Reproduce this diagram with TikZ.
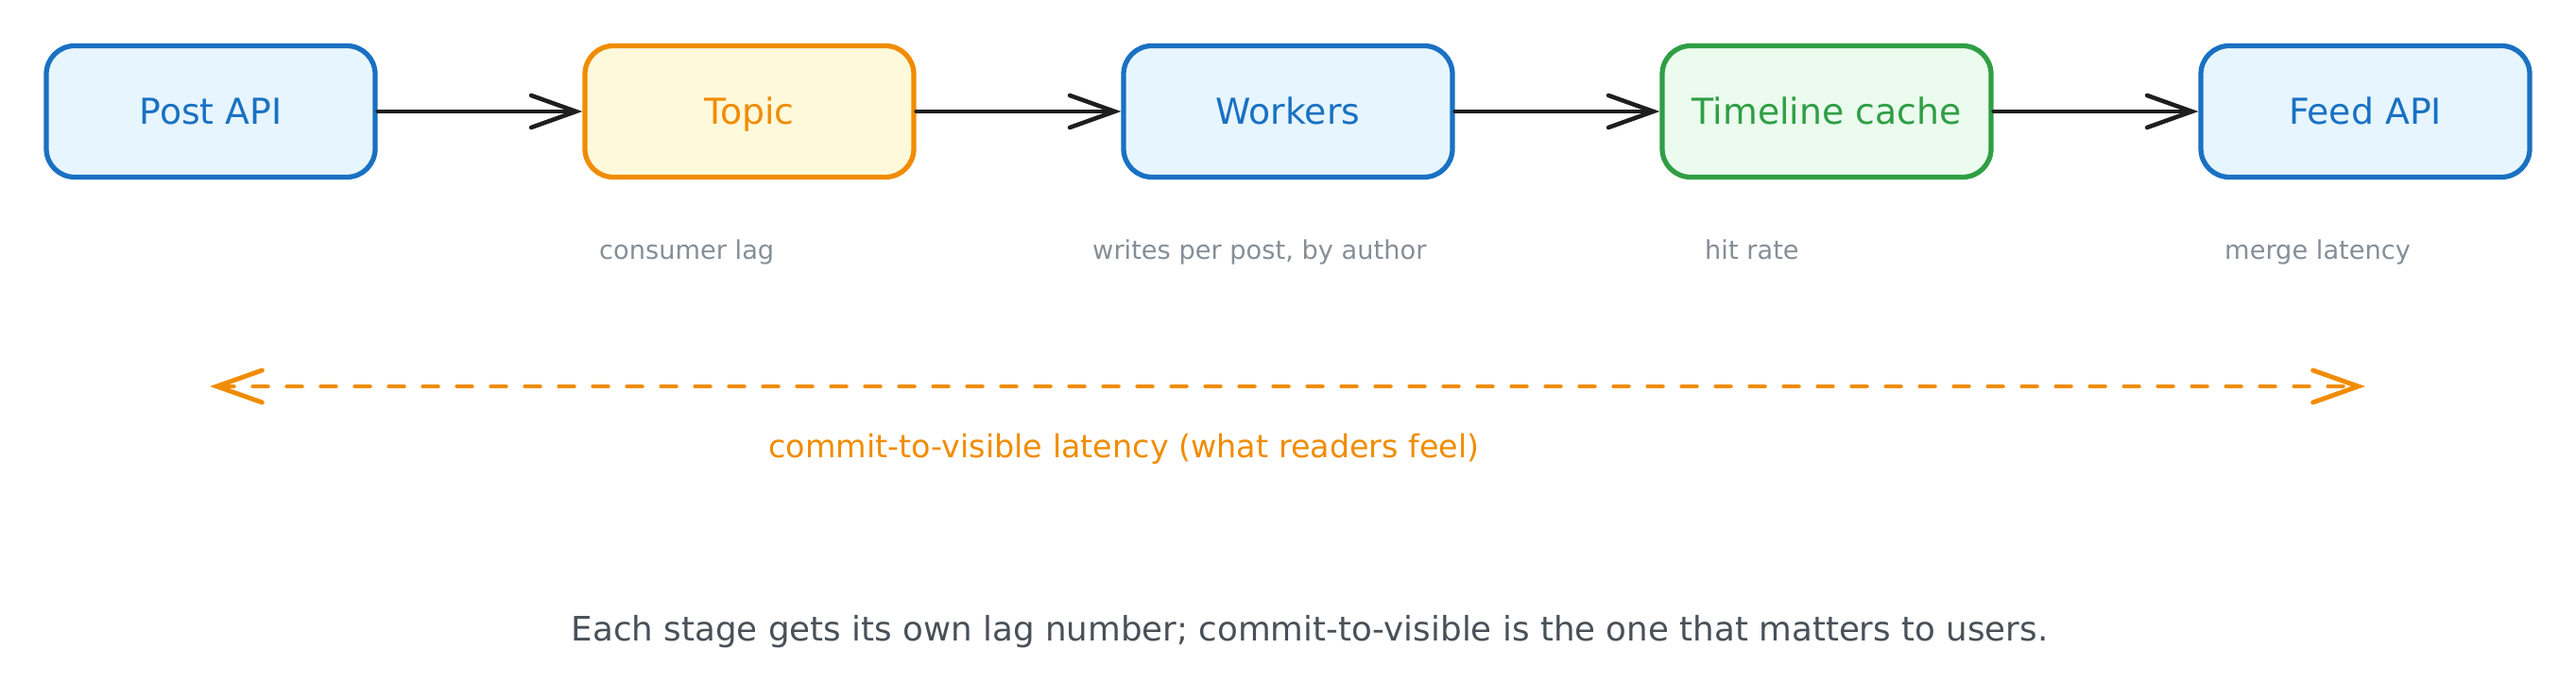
\documentclass[tikz,border=0pt]{standalone}
\usepackage{fontspec}
\setmainfont{DejaVu Sans}
\usetikzlibrary{arrows.meta}

\definecolor{bluestroke}{HTML}{1971C2}
\definecolor{bluefill}{HTML}{E7F5FF}
\definecolor{orangestroke}{HTML}{F08C00}
\definecolor{orangefill}{HTML}{FFF9DB}
\definecolor{greenstroke}{HTML}{2F9E44}
\definecolor{greenfill}{HTML}{EBFBEE}
\definecolor{notegray}{HTML}{868E96}
\definecolor{captiongray}{HTML}{495057}
\definecolor{inkblack}{HTML}{1E1E1E}

\begin{document}
\begin{tikzpicture}[
    stage/.style={draw, line width=3pt, rounded corners=0.6cm, minimum width=6.96cm, minimum height=2.78cm, text height=15.5pt, text depth=0pt, font=\fontsize{21.5}{26}\selectfont},
    bluestage/.style={stage, draw=bluestroke, fill=bluefill, text=bluestroke},
    orangestage/.style={stage, draw=orangestroke, fill=orangefill, text=orangestroke},
    greenstage/.style={stage, draw=greenstroke, fill=greenfill, text=greenstroke},
    metric/.style={anchor=base west, text=notegray, font=\fontsize{15.5}{19}\selectfont},
    flow/.style={draw=inkblack, line width=2.6pt, line cap=round, -{Straight Barb[length=0.95cm, width=0.68cm, line cap=round]}},
  ]
		\useasboundingbox (0,0) rectangle (54.52,-14.82);

		% pipeline stages
		\node[bluestage] (post) at (4.46,-2.36) {Post API};
		\node[orangestage] (topic) at (15.86,-2.36) {Topic};
		\node[bluestage] (workers) at (27.26,-2.36) {Workers};
		\node[greenstage] (cache) at (38.66,-2.36) {Timeline cache};
		\node[bluestage] (feed) at (50.06,-2.36) {Feed API};

		\draw[flow] (post) -- (topic);
		\draw[flow] (topic) -- (workers);
		\draw[flow] (workers) -- (cache);
		\draw[flow] (cache) -- (feed);

		% per stage lag
		\node[metric] (lagtopic) at (12.56,-5.5) {consumer lag};
		\node[metric] (lagworkers) at (23.0,-5.5) {writes per post, by author};
		\node[metric] (lagcache) at (35.96,-5.5) {hit rate};
		\node[metric] (lagfeed) at (46.96,-5.5) {merge latency};

		% end to end
		\coordinate (commitL) at (4.44,-8.18);
		\coordinate (commitR) at (50.06,-8.18);
		\draw[draw=orangestroke, line width=2.8pt, line cap=round, dash pattern=on 0.31cm off 0.41cm, {Straight Barb[length=0.96cm, width=0.68cm, line cap=round]}-{Straight Barb[length=0.96cm, width=0.68cm, line cap=round]}] (commitL) -- (commitR);
		\node[anchor=west, text=orangestroke, font=\fontsize{19}{23}\selectfont] (commitlabel) at (16.14,-9.5) {commit-to-visible latency (what readers feel)};

		\node[text=captiongray, font=\fontsize{20.3}{24}\selectfont] (caption) at (27.72,-13.38) {Each stage gets its own lag number; commit-to-visible is the one that matters to users.};
\end{tikzpicture}
\end{document}
